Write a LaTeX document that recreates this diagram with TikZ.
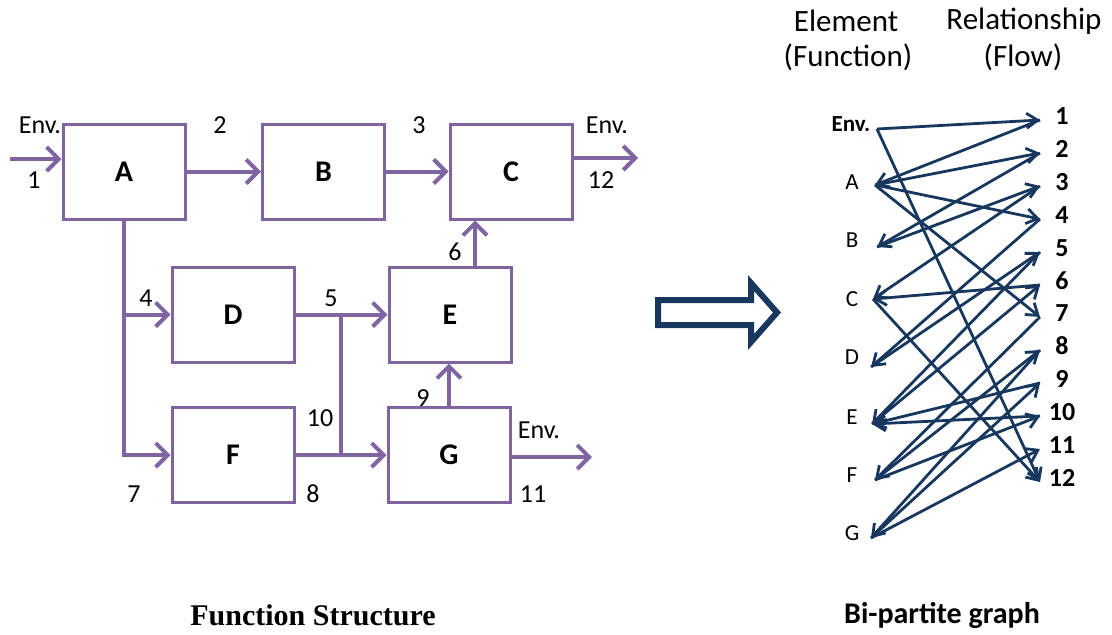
\documentclass[tikz,border=0pt]{standalone}
\usepackage{fontspec}
\setmainfont{Carlito}
\newfontfamily\capserif{Liberation Serif}
\usepackage{xcolor}
\usepackage{tikz}
\usetikzlibrary{positioning, arrows.meta}

\definecolor{fsviolet}{HTML}{8064A2}
\definecolor{bpnavy}{HTML}{17375E}
\newcommand{\pxs}[1]{\fontsize{#1}{#1}\selectfont}

\tikzset{
  fnbox/.style={draw=fsviolet, line width=3pt, minimum width=122pt, minimum height=95pt, font=\pxs{30}\bfseries},
  flowln/.style={fsviolet, line width=4pt},
  flowarr/.style={flowln, -{Straight Barb[length=12pt, width=24pt]}},
  fnum/.style={font=\pxs{26}},
  eltlbl/.style={font=\pxs{23}},
  flwlbl/.style={font=\pxs{26}\bfseries},
  hdr/.style={font=\pxs{31}},
  bip/.style={bpnavy, line width=2.8pt, -{Straight Barb[length=11pt, width=15pt]}},
}

\begin{document}
\begin{tikzpicture}[x=1pt, y=-1pt]
\useasboundingbox (0,0) rectangle (1112,635);

% function structure
\node[fnbox] (A) at (124,171.5) {A};
\node[fnbox] (B) at (323.5,171.5) {B};
\node[fnbox] (C) at (511,171.5) {C};
\node[fnbox] (D) at (233,314.5) {D};
\node[fnbox] (E) at (450,314.5) {E};
\node[fnbox] (F) at (233,455) {F};
\node[fnbox] (G) at (449,455) {G};

\coordinate (envin) at (10,159);
\coordinate (envc) at (638,158);
\coordinate (envg) at (592,457);
\coordinate (jn) at (341,385);

\draw[flowarr] (envin) -- (envin -| A.west);
\draw[flowarr] (A) -- (B);
\draw[flowarr] (B) -- (C);
\draw[flowarr] (envc -| C.east) -- (envc);
\draw[flowarr] (A.south) |- (F.west);
\draw[flowarr] (A.south |- D.west) -- (D.west);
\draw[flowarr] (D) -- (E);
\draw[flowarr] (F) -- (G);
\draw[flowln] (jn |- F.east) -- (jn |- D.east);
\draw[flowarr] ([xshift=25pt]E.north) -- ([xshift=25pt]E.north |- C.south);
\draw[flowarr] (G.north) -- (G.north |- E.south);
\draw[flowarr] (envg -| G.east) -- (envg);

\node[fnum] (tenvin) at (40,125) {Env.};
\node[fnum] (t1) at (34,180) {1};
\node[fnum] (t2) at (220,125) {2};
\node[fnum] (t3) at (419,125) {3};
\node[fnum] (tenvc) at (607,125) {Env.};
\node[fnum] (t12) at (601,180) {12};
\node[fnum] (t4) at (146,298) {4};
\node[fnum] (t5) at (331,298) {5};
\node[fnum] (t6) at (455,252) {6};
\node[fnum] (t9) at (423,398) {9};
\node[fnum] (t10) at (320,418) {10};
\node[fnum] (tenvg) at (539,430) {Env.};
\node[fnum] (t7) at (134,494) {7};
\node[fnum] (t8) at (313,494) {8};
\node[fnum] (t11) at (533,494) {11};

% transformation arrow
\draw[bpnavy, line width=6pt, line join=miter] (658,300) -- (751,300) -- (751,283) -- (777,312.5)
  -- (751,342) -- (751,325) -- (658,325) -- cycle;

% bi-partite graph
\node[hdr] (hElt) at (846,21) {Element};
\node[hdr] (hFun) at (848,57) {(Function)};
\node[hdr] (hRel) at (1024,21) {Relationship};
\node[hdr] (hFlw) at (1023,57) {(Flow)};

\node[eltlbl] (bEnv) at (851,124) {\bfseries Env.};
\node[eltlbl] (bA) at (852,182) {A};
\node[eltlbl] (bB) at (852,240) {B};
\node[eltlbl] (bC) at (852,299) {C};
\node[eltlbl] (bD) at (852,357) {D};
\node[eltlbl] (bE) at (852,417) {E};
\node[eltlbl] (bF) at (852,475) {F};
\node[eltlbl] (bG) at (852,533) {G};

\node[flwlbl] (b1) at (1062,116) {1};
\node[flwlbl] (b2) at (1062,149) {2};
\node[flwlbl] (b3) at (1062,182) {3};
\node[flwlbl] (b4) at (1062,215) {4};
\node[flwlbl] (b5) at (1062,248) {5};
\node[flwlbl] (b6) at (1062,281) {6};
\node[flwlbl] (b7) at (1062,313) {7};
\node[flwlbl] (b8) at (1062,346) {8};
\node[flwlbl] (b9) at (1062,379) {9};
\node[flwlbl] (b10) at (1062,412) {10};
\node[flwlbl] (b11) at (1062,445) {11};
\node[flwlbl] (b12) at (1062,478) {12};

\coordinate (pEnv) at (877,129);
\coordinate (pA) at (875,185);
\coordinate (pB) at (877,247);
\coordinate (pC) at (873,299);
\coordinate (pD) at (871,367);
\coordinate (pE) at (872,424);
\coordinate (pF) at (875,480);
\coordinate (pG) at (871,538);
\coordinate (q1) at (1040,120);
\coordinate (q2) at (1040,153);
\coordinate (q3) at (1040,186);
\coordinate (q4) at (1040,219);
\coordinate (q5) at (1040,252);
\coordinate (q6) at (1040,285);
\coordinate (q7) at (1040,317);
\coordinate (q8) at (1040,350);
\coordinate (q9) at (1040,383);
\coordinate (q10) at (1040,416);
\coordinate (q11) at (1040,449);
\coordinate (q12) at (1040,482);

\draw[bip] (pEnv) -- (q1);
\draw[bip] (pEnv) -- (q12);
\draw[bip] (q1) -- (pA);
\draw[bip] (pA) -- (q2);
\draw[bip] (pA) -- (q4);
\draw[bip] (pA) -- (q7);
\draw[bip] (q2) -- (pB);
\draw[bip] (pB) -- (q3);
\draw[bip] (q3) -- (pC);
\draw[bip] (q6) -- (pC);
\draw[bip] (pC) -- (q12);
\draw[bip] (q4) -- (pD);
\draw[bip] (pD) -- (q5);
\draw[bip] (q5) -- (pE);
\draw[bip] (q9) -- (pE);
\draw[bip] (q10) -- (pE);
\draw[bip] (pE) -- (q6);
\draw[bip] (q7) -- (pF);
\draw[bip] (pF) -- (q8);
\draw[bip] (pF) -- (q10);
\draw[bip] (q8) -- (pG);
\draw[bip] (pG) -- (q9);
\draw[bip] (pG) -- (q11);

% captions
\node[font=\capserif\pxs{30}\bfseries] (capFS) at (313,615) {Function Structure};
\node[font=\pxs{30}\bfseries] (capBG) at (942,615) {Bi-partite graph};
\end{tikzpicture}
\end{document}
